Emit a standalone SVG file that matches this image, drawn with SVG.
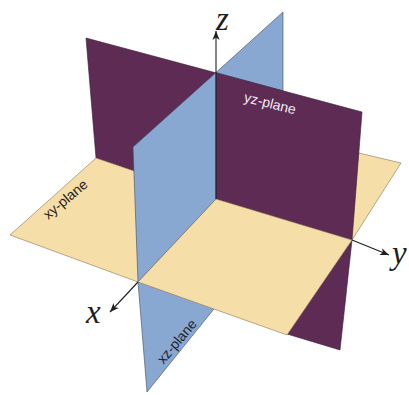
<svg xmlns="http://www.w3.org/2000/svg" width="409" height="395" viewBox="0 0 409 395">
<style>
.tan{fill:#f6dea8;stroke:#8a7458;stroke-width:0.6;stroke-linejoin:round}
.blue{fill:#89a8d1;stroke:#3e4a5e;stroke-width:0.6;stroke-linejoin:round}
.purple{fill:#5d2b54;stroke:#3a1a34;stroke-width:0.6;stroke-linejoin:round}
.axis{stroke:#1e1e1e;stroke-width:1.1;fill:none}
.ax{font-family:"Liberation Serif",serif;font-style:italic;font-size:33px;fill:#1e1e1e}
.pl{font-family:"Liberation Sans",Arial,sans-serif;font-size:14px;text-anchor:middle}
</style>
<defs>
<marker id="arr" viewBox="-10 -5 11 10" refX="0" refY="0" markerWidth="11" markerHeight="10" markerUnits="userSpaceOnUse" orient="auto">
<path d="M0,0 L-9,-3.6 L-6.5,0 L-9,3.6 Z" fill="#1e1e1e"/>
</marker>
</defs>
<rect width="409" height="395" fill="#ffffff"/>
<g id="xz-plane-back"><polygon class="blue" points="216,72.5 283,12 283,91"/></g>
<g id="yz-plane-lower"><polygon class="purple" points="352,240 340,350 287,334"/></g>
<g id="xy-plane-right"><polygon class="tan" points="216,199 352,240 401,163 283,135"/></g>
<g id="yz-plane-upper"><polygon class="purple" points="86,38 362,112 352,240 216,199 96,158"/></g>
<g id="xy-plane-left"><polygon class="tan" points="10,235 96,158 216,199 138,282"/></g>
<g id="xz-plane-lower"><polygon class="blue" points="216,199 138,282 147,392 230,289"/></g>
<g id="xz-plane-upper"><polygon class="blue" points="133,147 216,72.5 216,199 138,282"/></g>
<g id="xy-plane-front"><polygon class="tan" points="216,199 138,282 287,335 352,240"/></g>
<g id="connectors">
<line class="axis" x1="216" y1="199" x2="216" y2="31" marker-end="url(#arr)"/>
<line class="axis" x1="138" y1="282" x2="110" y2="312" marker-end="url(#arr)"/>
<line class="axis" x1="352" y1="240" x2="389" y2="255" marker-end="url(#arr)"/>
</g>
<g id="labels">
<text class="ax" x="216" y="30">z</text>
<text class="ax" x="86" y="323">x</text>
<text class="ax" x="392" y="264">y</text>
<text class="pl" x="269" y="108" fill="#f3e8f0" transform="rotate(14 269 108)">yz-plane</text>
<text class="pl" x="68.5" y="203" fill="#2a2420" transform="rotate(-40 68.5 203)">xy-plane</text>
<text class="pl" x="180.5" y="344.5" fill="#1f2530" transform="rotate(-50 180.5 344.5)">xz-plane</text>
</g>
</svg>
